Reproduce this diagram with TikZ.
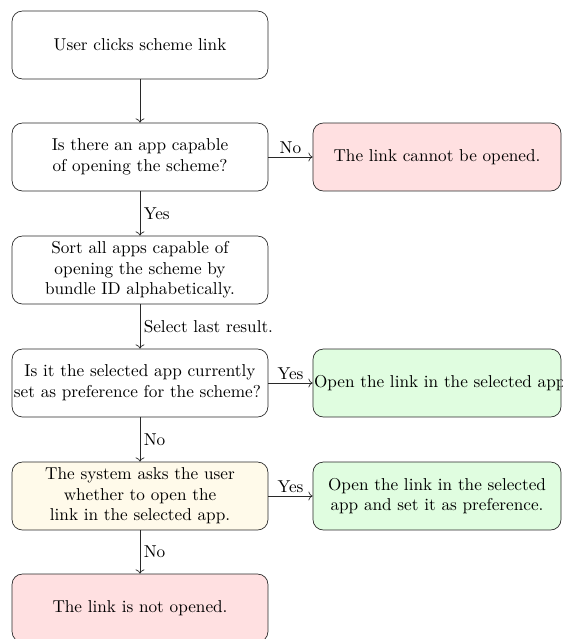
\documentclass[tikz,border=0pt]{standalone}
\usetikzlibrary{arrows.meta}
\definecolor{redfill}{RGB}{255,224,225}
\definecolor{greenfill}{RGB}{224,253,224}
\definecolor{yellowfill}{RGB}{255,250,234}
\definecolor{edgegray}{RGB}{40,40,40}
\begin{document}
\begin{tikzpicture}[x=0.5814pt,y=-0.5814pt,
  lbox/.style={draw=edgegray, rounded corners=6pt, minimum width=148.8pt, minimum height=39.5pt,
    text width=142.3pt, inner sep=3.2pt, align=center},
  rbox/.style={draw=edgegray, rounded corners=6pt, minimum width=144.2pt, minimum height=39.5pt,
    text width=138pt, inner sep=3.1pt, align=center},
  conn/.style={draw=edgegray, ->},
  lab/.style={inner sep=2pt}
]
\useasboundingbox (0,0) rectangle (562,639);
\node[lbox] (start) at (140,45) {User clicks scheme link};
\node[lbox] (q1) at (140,157) {Is there an app capable\\of opening the scheme?};
\node[rbox, fill=redfill] (cannot) at (437,157) {The link cannot be opened.};
\node[lbox] (sort) at (140,270) {Sort all apps capable of\\opening the scheme by\\bundle ID alphabetically.};
\node[lbox] (q2) at (140,383) {Is it the selected app currently\\\hspace*{-3pt}\mbox{set as preference for the scheme?}};
\node[rbox, fill=greenfill, text width=143pt, inner sep=0.6pt, align=left] (open1) at (437,383) {\mbox{Open the link in the selected app.}};
\node[lbox, fill=yellowfill] (ask) at (140,496) {The system asks the user\\whether to open the\\link in the selected app.};
\node[rbox, fill=greenfill] (open2) at (437,496) {Open the link in the selected\\app and set it as preference.};
\node[lbox, fill=redfill] (notopen) at (140,608) {The link is not opened.};

\draw[conn] (start) -- (q1);
\draw[conn] (q1) -- node[lab, above] {No} (cannot);
\draw[conn] (q1) -- node[lab, right] {Yes} (sort);
\draw[conn] (sort) -- node[lab, right] {Select last result.} (q2);
\draw[conn] (q2) -- node[lab, above] {Yes} (open1);
\draw[conn] (q2) -- node[lab, right] {No} (ask);
\draw[conn] (ask) -- node[lab, above] {Yes} (open2);
\draw[conn] (ask) -- node[lab, right] {No} (notopen);
\end{tikzpicture}
\end{document}
